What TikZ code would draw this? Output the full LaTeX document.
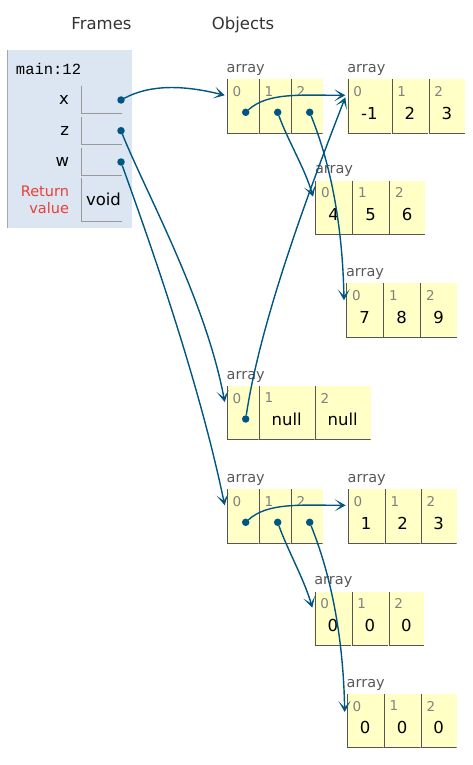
\documentclass[tikz,border=0pt]{standalone}
\usepackage{fontspec}
\setmainfont{DejaVu Sans}
\setmonofont{Liberation Mono}
\usetikzlibrary{positioning,arrows.meta}

\definecolor{ptrblue}{HTML}{005583}
\definecolor{frameblue}{HTML}{DCE6F2}
\definecolor{cellyellow}{HTML}{FFFFC6}
\definecolor{cellline}{HTML}{555555}
\definecolor{retred}{HTML}{E93F34}

\begin{document}
\begin{tikzpicture}[
  x=1pt, y=-1pt,
  every node/.style={inner sep=0pt, outer sep=0pt},
  heading/.style={anchor=base, font=\fontsize{16.5}{20}\selectfont, text=black!80},
  frame/.style={fill=frameblue, anchor=north west, minimum width=125, minimum height=178,
    path picture={\draw[black!35] ([xshift=0.5pt]path picture bounding box.north west) -- ([xshift=0.5pt]path picture bounding box.south west);}},
  varcell/.style={fill=frameblue, anchor=north west, minimum width=41, minimum height=28, font=\fontsize{16.5}{19}\selectfont,
    path picture={\draw[black!40] ([xshift=0.5pt]path picture bounding box.north west) |- ([yshift=0.5pt]path picture bounding box.south east);}},
  varname/.style={font=\fontsize{16.5}{19}\selectfont},
  cell/.style 2 args={fill=cellyellow, anchor=north west, minimum width=#1, minimum height=54,
    text height=25.6pt, text depth=0pt, font=\fontsize{16.5}{19}\selectfont, label={[idx]north west:#2},
    path picture={\draw[cellline] ([xshift=0.5pt]path picture bounding box.north west) |- ([yshift=0.5pt]path picture bounding box.south east);}},
  idx/.style={anchor=north west, xshift=6pt, yshift=-7pt, font=\fontsize{13.5}{15}\selectfont, text=black!50},
  arr/.style={label={[arrlbl]north west:array}},
  arrlbl/.style={anchor=base west, yshift=7pt, font=\fontsize{14.5}{17}\selectfont, text=black!65},
  dot/.style={circle, fill=ptrblue, minimum size=7.5pt},
  ptr/.style={ptrblue, line width=1.4pt, -{Stealth[length=11pt, width=12pt, inset=6.5pt]}}
]
\useasboundingbox (0,0) rectangle (472,765);

% Headings
\node[heading] (frames) at (101.5,29.3) {Frames};
\node[heading] (objects) at (243,29.3) {Objects};

% Frame
\node[frame] (frm) at (7,50) {};
\node[anchor=west, font=\ttfamily\fontsize{15.5}{18}\selectfont] (fname) at (16,69) {main:12};
\node[varcell] (xv) at (81,86) {};
\node[varcell] (zv) at (81,116.7) {};
\node[varcell] (wv) at (81,148) {};
\node[varcell, minimum height=43.5] (vv) at (81,177.7) {\hspace{4pt}void};
\node[varname, left=12pt of xv] (xl) {x};
\node[varname, left=12pt of zv] (zl) {z};
\node[varname, left=12pt of wv] (wl) {w};
\node[left=12pt of vv, align=right, text=retred, font=\fontsize{14.5}{17}\selectfont] (rl) {Return\\value};
\node[dot] (xp) at ([xshift=-1pt]xv.east) {};
\node[dot] (zp) at ([xshift=-1pt]zv.east) {};
\node[dot] (wp) at ([xshift=-1pt]wv.east) {};

% Array x
\node[cell={32}{0}, arr] (a0) at (226.7,79.3) {};
\node[cell={32}{1}, right=0pt of a0] (a1) {};
\node[cell={32}{2}, right=0pt of a1] (a2) {};

% Array -1 2 3
\node[cell={44}{0}, arr] (b0) at (347.3,79.3) {-1};
\node[cell={37}{1}, right=0pt of b0] (b1) {2};
\node[cell={37}{2}, right=0pt of b1] (b2) {3};

% Array 4 5 6
\node[cell={37}{0}, arr] (c0) at (315,180.7) {4};
\node[cell={37}{1}, right=0pt of c0] (c1) {5};
\node[cell={36}{2}, right=0pt of c1] (c2) {6};

% Array 7 8 9
\node[cell={37}{0}, arr] (d0) at (346,283.3) {7};
\node[cell={37}{1}, right=0pt of d0] (d1) {8};
\node[cell={37}{2}, right=0pt of d1] (d2) {9};

% Array z
\node[cell={32}{0}, arr] (e0) at (226.7,386) {};
\node[cell={56}{1}, right=0pt of e0] (e1) {null};
\node[cell={56}{2}, right=0pt of e1] (e2) {null};

% Array w
\node[cell={32}{0}, arr] (f0) at (226.7,489.3) {};
\node[cell={32}{1}, right=0pt of f0] (f1) {};
\node[cell={32}{2}, right=0pt of f1] (f2) {};

% Array 1 2 3
\node[cell={37}{0}, arr] (g0) at (347.7,489.3) {1};
\node[cell={36}{1}, right=0pt of g0] (g1) {2};
\node[cell={36}{2}, right=0pt of g1] (g2) {3};

% Arrays 0 0 0
\node[cell={37}{0}, arr] (h0) at (314.3,591.7) {0};
\node[cell={37}{1}, right=0pt of h0] (h1) {0};
\node[cell={36}{2}, right=0pt of h1] (h2) {0};
\node[cell={37}{0}, arr] (i0) at (346.7,694) {0};
\node[cell={37}{1}, right=0pt of i0] (i1) {0};
\node[cell={36}{2}, right=0pt of i1] (i2) {0};

% Pointer dots
\node[dot] (a0p) at ([xshift=3pt, yshift=-6pt]a0.center) {};
\node[dot] (a1p) at ([xshift=3pt, yshift=-6pt]a1.center) {};
\node[dot] (a2p) at ([xshift=3pt, yshift=-6pt]a2.center) {};
\node[dot] (e0p) at ([xshift=3pt, yshift=-6pt]e0.center) {};
\node[dot] (f0p) at ([xshift=3pt, yshift=-6pt]f0.center) {};
\node[dot] (f1p) at ([xshift=3pt, yshift=-6pt]f1.center) {};
\node[dot] (f2p) at ([xshift=3pt, yshift=-6pt]f2.center) {};

% Arrows
\draw[ptr] (xp) .. controls +(30,-16) and +(-40,-10) .. ([xshift=-2pt, yshift=-16pt]a0.north west);
\draw[ptr] (zp) .. controls +(24,60) and +(-19,-102) .. ([xshift=-2pt, yshift=-16pt]e0.north west);
\draw[ptr] (wp) .. controls +(25,70) and +(-27,-130) .. ([xshift=-2pt, yshift=-16pt]f0.north west);
\draw[ptr] (a0p) .. controls +(22,-20) and +(-45,0) .. ([xshift=-2pt, yshift=-16pt]b0.north west);
\draw[ptr] (a1p) .. controls +(10,28) and +(-8,-28) .. ([xshift=-2pt, yshift=-16pt]c0.north west);
\draw[ptr] (a2p) .. controls +(12,30) and +(-2,-100) .. ([xshift=-2pt, yshift=-17pt]d0.north west);
\draw[ptr] (e0p) .. controls +(15,-100) and +(-35,90) .. ([xshift=-2pt, yshift=-18pt]b0.north west);
\draw[ptr] (f0p) .. controls +(22,-20) and +(-45,0) .. ([xshift=-2pt, yshift=-16pt]g0.north west);
\draw[ptr] (f1p) .. controls +(10,28) and +(-8,-28) .. ([xshift=-2pt, yshift=-16pt]h0.north west);
\draw[ptr] (f2p) .. controls +(12,30) and +(-2,-100) .. ([xshift=-2pt, yshift=-18pt]i0.north west);

\end{tikzpicture}
\end{document}
